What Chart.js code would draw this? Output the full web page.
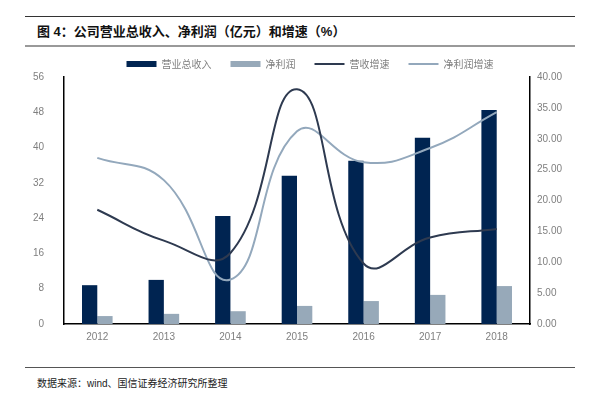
<!DOCTYPE html>
<html>
<head>
<meta charset="utf-8">
<script src="https://cdn.jsdelivr.net/npm/chart.js@4.4.1/dist/chart.umd.min.js"></script>
<style>
  body { margin: 0; background: #fff; width: 600px; height: 394px; position: relative; overflow: hidden;
         font-family: "Liberation Sans", "Noto Sans CJK SC", sans-serif; }
  .rule { position: absolute; left: 25px; width: 550px; }
  #title { position: absolute; left: 37px; top: 21px; font-size: 13px; font-weight: bold; color: #111;
           font-family: "Liberation Sans", "Noto Sans CJK SC", sans-serif; }
  #source { position: absolute; left: 37px; top: 375px; font-size: 10px; color: #222; }
  #box { position: absolute; left: 0; top: 40px; width: 600px; height: 310px; }
</style>
</head>
<body>
<div class="rule" style="top:16px;border-top:1px solid #333"></div>
<div id="title">图 4：公司营业总收入、净利润（亿元）和增速（%）</div>
<div class="rule" style="top:45px;border-top:2px solid #999"></div>
<div id="box"><canvas id="chart"></canvas></div>
<div class="rule" style="top:367px;border-top:1px solid #555"></div>
<div id="source">数据来源：wind、国信证券经济研究所整理</div>
<script>
const years = ["2012", "2013", "2014", "2015", "2016", "2017", "2018"];
const revenue = [8.8, 10.0, 24.5, 33.6, 37.0, 42.2, 48.5];
const netProfit = [1.8, 2.3, 2.9, 4.1, 5.2, 6.6, 8.6];
const revenueGrowth = [18.5, 13.5, 11.5, 38.0, 9.8, 14.0, 15.4];
const profitGrowth = [26.9, 23.3, 7.2, 31.2, 26.2, 28.5, 34.3];

const tickFont = { family: "Liberation Sans", size: 10 };
const grey = "#7f7f7f";

// keep legend height fixed so the plot area lands where it should
const legendFit = {
    id: "legendFit",
    afterInit(chart) {
        const lg = chart.legend;
        const orig = lg.fit;
        lg.fit = function () { orig.call(this); this.height = 37; };
    }
};

new Chart(document.getElementById("chart"), {
    data: {
        labels: years,
        datasets: [
            {
                type: "line", label: "营收增速", data: revenueGrowth, yAxisID: "y1",
                borderColor: "#2e3a50", backgroundColor: "#2e3a50", borderWidth: 2,
                tension: 0.45, pointRadius: 0, pointStyle: "line", order: 0
            },
            {
                type: "line", label: "净利润增速", data: profitGrowth, yAxisID: "y1",
                borderColor: "#93a8bc", backgroundColor: "#93a8bc", borderWidth: 2,
                tension: 0.45, pointRadius: 0, pointStyle: "line", order: 0
            },
            {
                type: "bar", label: "营业总收入", data: revenue, yAxisID: "y",
                backgroundColor: "#002451", pointStyle: "rect",
                categoryPercentage: 0.46, barPercentage: 1, order: 1
            },
            {
                type: "bar", label: "净利润", data: netProfit, yAxisID: "y",
                backgroundColor: "#97a9b9", pointStyle: "rect",
                categoryPercentage: 0.46, barPercentage: 1, order: 1
            }
        ]
    },
    options: {
        responsive: true,
        maintainAspectRatio: false,
        animation: false,
        layout: { padding: { left: 20, right: 0, top: 0, bottom: 0 } },
        plugins: {
            legend: {
                position: "top",
                labels: {
                    usePointStyle: true,
                    pointStyleWidth: 30,
                    boxHeight: 6,
                    padding: 19,
                    color: grey,
                    font: { family: "Noto Sans CJK SC", size: 10 },
                    sort: (a, b) => [2, 3, 0, 1].indexOf(a.datasetIndex) - [2, 3, 0, 1].indexOf(b.datasetIndex)
                }
            },
            tooltip: { enabled: false }
        },
        scales: {
            x: {
                grid: { display: false, drawTicks: false },
                border: { color: "#000", width: 1.5 },
                ticks: { color: grey, font: tickFont, padding: 7 },
                afterFit: s => { s.height = 26; }
            },
            y: {
                position: "left",
                min: 0, max: 56,
                grid: { display: false, drawTicks: false },
                border: { color: "#000", width: 1.5 },
                ticks: { stepSize: 8, color: grey, font: tickFont, padding: 20 },
                afterFit: s => { s.width = 44; }
            },
            y1: {
                position: "right",
                min: 0, max: 40,
                grid: { display: false, drawOnChartArea: false, tickLength: 3, tickColor: "#000", tickWidth: 1.5 },
                border: { color: "#000", width: 1.5 },
                ticks: { stepSize: 5, color: grey, font: tickFont, padding: 4,
                         callback: v => v.toFixed(2) },
                afterFit: s => { s.width = 70; }
            }
        }
    },
    plugins: [legendFit]
});
</script>
</body>
</html>
